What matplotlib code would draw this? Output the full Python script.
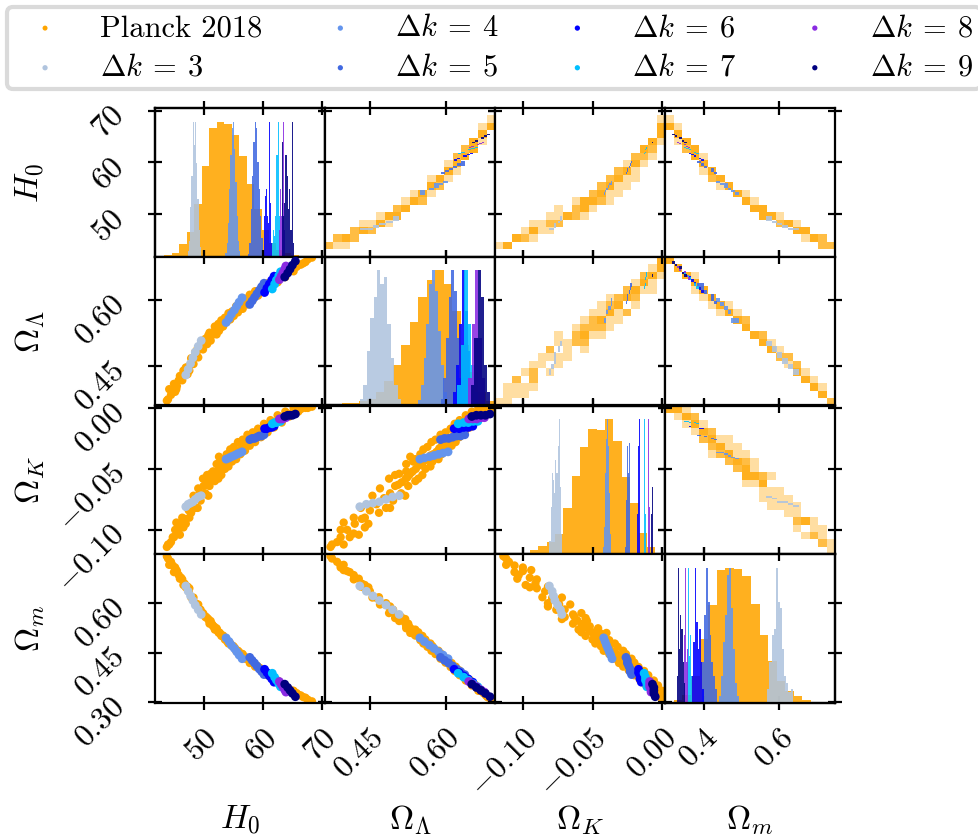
import numpy as np
import matplotlib
matplotlib.use("Agg")
import matplotlib.pyplot as plt
from matplotlib.colors import LinearSegmentedColormap, to_rgb

plt.rcParams['font.family'] = ['cmr10', 'DejaVu Serif']
plt.rcParams['mathtext.fontset'] = 'cm'
plt.rcParams['axes.unicode_minus'] = False
plt.rcParams['axes.linewidth'] = 1.6

labels = [r'$H_0$', r'$\Omega_\Lambda$', r'$\Omega_K$', r'$\Omega_m$']
names = ['Planck 2018', r'$\Delta k \:=\: 3$', r'$\Delta k \:=\: 4$', r'$\Delta k \:=\: 5$',
         r'$\Delta k \:=\: 6$', r'$\Delta k \:=\: 7$', r'$\Delta k \:=\: 8$', r'$\Delta k \:=\: 9$']
colors = ['orange', 'lightsteelblue', 'cornflowerblue', 'royalblue',
          'blue', 'deepskyblue', 'blueviolet', 'navy']

# ---- samples (H0, Omega_Lambda, Omega_K, Omega_m) ----
planck_H0 = [43.8, 44.5, 45.2, 45.8, 46.4, 47.0, 47.3, 47.9, 48.3, 48.6, 49.1, 49.5, 49.9,
             50.3, 50.6, 51.0, 51.2, 51.6, 51.9, 52.2, 52.5, 52.8, 53.0, 53.3, 53.6, 53.9,
             54.2, 54.5, 54.8, 55.1, 55.5, 55.8, 56.2, 56.6, 57.0, 57.4, 57.8, 58.3, 58.7,
             59.2, 59.7, 60.2, 60.8, 61.3, 61.9, 62.5, 63.2, 63.8, 64.5, 65.2, 66.0, 66.8,
             67.6, 68.3, 45.0, 46.0, 44.2, 50.0, 52.0, 53.5, 55.0, 56.5, 58.0, 54.0, 51.5,
             44.0, 44.8, 45.5, 46.2, 46.8, 47.5, 48.1, 48.8, 49.4, 50.4, 50.9, 51.4, 51.8,
             52.3, 52.7, 53.2, 53.7, 54.4, 54.9, 55.3, 55.9, 56.3, 56.9, 57.6, 58.5, 59.0,
             59.5, 60.0, 60.5, 61.1, 61.6, 62.2, 62.8, 63.5, 64.2, 65.0, 65.7, 66.4, 67.2,
             47.6, 46.6, 45.4, 49.0, 50.8, 52.6]
planck_OL = [0.372, 0.385, 0.392, 0.418, 0.418, 0.447, 0.432, 0.468, 0.455, 0.482, 0.470, 0.496, 0.488,
             0.512, 0.500, 0.526, 0.508, 0.522, 0.540, 0.522, 0.546, 0.536, 0.554, 0.540, 0.560, 0.550,
             0.570, 0.556, 0.574, 0.564, 0.586, 0.572, 0.592, 0.580, 0.603, 0.590, 0.612, 0.600, 0.620,
             0.610, 0.627, 0.618, 0.638, 0.628, 0.648, 0.640, 0.658, 0.652, 0.668, 0.665, 0.680, 0.683,
             0.692, 0.696, 0.410, 0.428, 0.398, 0.500, 0.532, 0.550, 0.570, 0.588, 0.606, 0.560, 0.524,
             0.375, 0.392, 0.405, 0.420, 0.434, 0.450, 0.463, 0.478, 0.490, 0.506, 0.513, 0.521, 0.528,
             0.535, 0.541, 0.548, 0.554, 0.563, 0.569, 0.575, 0.582, 0.587, 0.593, 0.600, 0.609, 0.613,
             0.618, 0.622, 0.627, 0.633, 0.637, 0.643, 0.648, 0.655, 0.662, 0.669, 0.675, 0.680, 0.686,
             0.440, 0.440, 0.398, 0.490, 0.520, 0.530]
planck_OK = [-0.114, -0.110, -0.100, -0.103, -0.090, -0.095, -0.082, -0.086, -0.072, -0.082, -0.066, -0.076, -0.058,
             -0.070, -0.055, -0.064, -0.054, -0.052, -0.060, -0.046, -0.058, -0.044, -0.055, -0.042, -0.050, -0.038,
             -0.048, -0.034, -0.044, -0.032, -0.042, -0.028, -0.038, -0.026, -0.035, -0.022, -0.031, -0.020, -0.028,
             -0.017, -0.024, -0.013, -0.020, -0.010, -0.016, -0.006, -0.012, -0.003, -0.007, 0.000, -0.003, 0.001,
             0.000, 0.001, -0.106, -0.104, -0.112, -0.064, -0.053, -0.046, -0.039, -0.033, -0.027, -0.043, -0.057,
             -0.112, -0.106, -0.100, -0.095, -0.091, -0.084, -0.079, -0.074, -0.070, -0.063, -0.061, -0.058, -0.055,
             -0.052, -0.050, -0.047, -0.045, -0.042, -0.040, -0.038, -0.036, -0.034, -0.031, -0.029, -0.026, -0.024,
             -0.022, -0.020, -0.018, -0.016, -0.014, -0.012, -0.010, -0.008, -0.006, -0.004, -0.002, -0.001, 0.000,
             -0.090, -0.098, -0.094, -0.082, -0.072, -0.040]
planck_Om = [0.742, 0.725, 0.708, 0.685, 0.672, 0.648, 0.650, 0.618, 0.617, 0.600, 0.596, 0.580, 0.570,
             0.558, 0.555, 0.538, 0.546, 0.530, 0.520, 0.524, 0.512, 0.508, 0.501, 0.502, 0.490, 0.488,
             0.478, 0.478, 0.470, 0.468, 0.456, 0.456, 0.446, 0.446, 0.432, 0.432, 0.419, 0.420, 0.408,
             0.407, 0.397, 0.395, 0.382, 0.382, 0.368, 0.366, 0.354, 0.351, 0.339, 0.335, 0.323, 0.316,
             0.308, 0.303, 0.694, 0.674, 0.716, 0.566, 0.522, 0.496, 0.470, 0.446, 0.422, 0.484, 0.534,
             0.735, 0.714, 0.697, 0.677, 0.659, 0.636, 0.616, 0.597, 0.581, 0.559, 0.548, 0.537, 0.529,
             0.519, 0.511, 0.501, 0.492, 0.480, 0.471, 0.464, 0.454, 0.448, 0.439, 0.430, 0.417, 0.411,
             0.404, 0.398, 0.391, 0.383, 0.377, 0.369, 0.362, 0.353, 0.344, 0.335, 0.328, 0.321, 0.314,
             0.645, 0.655, 0.700, 0.590, 0.552, 0.510]

dk3_H0 = [47.0, 47.4, 47.8, 48.2, 48.6, 49.1, 49.6]
dk3_OL = [0.430, 0.443, 0.456, 0.469, 0.482, 0.495, 0.508]
dk3_OK = [-0.081, -0.079, -0.078, -0.077, -0.075, -0.073, -0.072]
dk3_Om = [0.652, 0.636, 0.622, 0.608, 0.594, 0.580, 0.566]

dk4_H0 = [53.8, 54.3, 54.7, 55.2, 55.6, 56.0, 56.5]
dk4_OL = [0.549, 0.558, 0.568, 0.577, 0.586, 0.595, 0.605]
dk4_OK = [-0.042, -0.041, -0.040, -0.039, -0.038, -0.037, -0.036]
dk4_Om = [0.495, 0.484, 0.473, 0.463, 0.453, 0.443, 0.432]

dk5_H0 = [57.8, 58.2, 58.6, 59.0, 59.4, 59.8, 60.2]
dk5_OL = [0.590, 0.598, 0.606, 0.614, 0.622, 0.630, 0.638]
dk5_OK = [-0.026, -0.025, -0.025, -0.024, -0.023, -0.023, -0.022]
dk5_Om = [0.436, 0.427, 0.419, 0.410, 0.401, 0.393, 0.384]

dk6_H0 = [60.3, 60.7, 61.1, 61.5, 61.9]
dk6_OL = [0.617, 0.627, 0.636, 0.645, 0.654]
dk6_OK = [-0.017, -0.017, -0.016, -0.016, -0.015]
dk6_Om = [0.400, 0.390, 0.380, 0.371, 0.361]

dk7_H0 = [61.6, 62.0, 62.3, 62.7, 63.0]
dk7_OL = [0.625, 0.636, 0.645, 0.655, 0.664]
dk7_OK = [-0.013, -0.012, -0.012, -0.011, -0.011]
dk7_Om = [0.388, 0.376, 0.367, 0.356, 0.347]

dk8_H0 = [62.8, 63.1, 63.4, 63.7, 63.9]
dk8_OL = [0.646, 0.654, 0.662, 0.670, 0.677]
dk8_OK = [-0.009, -0.009, -0.009, -0.008, -0.008]
dk8_Om = [0.363, 0.355, 0.347, 0.338, 0.331]

dk9_H0 = [63.7, 64.2, 64.6, 65.0, 65.5]
dk9_OL = [0.652, 0.661, 0.670, 0.679, 0.688]
dk9_OK = [-0.007, -0.006, -0.006, -0.006, -0.005]
dk9_Om = [0.355, 0.345, 0.336, 0.327, 0.317]

# ---- 1D histograms on the diagonal (peak-normalised bin heights) ----
h0_lo = [43.4, 47.3, 53.7, 57.5, 60.0, 61.5, 62.7, 63.2]
h0_hi = [68.6, 49.6, 56.2, 60.2, 61.6, 62.9, 63.7, 65.3]
h0_heights = [
    [0.012, 0.025, 0.095, 0.18, 0.39, 0.67, 0.95, 1.0, 0.98, 0.9, 0.745, 0.54, 0.35, 0.2, 0.1, 0.05, 0.03, 0.012, 0.005, 0.003],
    [0.04, 0.12, 0.37, 0.6, 1.0, 0.83, 1.0, 0.69, 0.43, 0.2, 0.07],
    [0.03, 0.1, 0.25, 0.5, 0.75, 0.95, 1.0, 0.8, 0.55, 0.3, 0.12, 0.04],
    [0.02, 0.1, 0.35, 0.6, 0.85, 1.0, 0.95, 0.7, 0.5, 0.3, 0.14, 0.04],
    [0.05, 0.3, 0.45, 0.5, 0.3, 0.25, 1.0, 0.4, 0.1],
    [0.1, 0.2, 0.15, 0.3, 0.75, 1.0, 0.3],
    [0.2, 0.5, 0.3, 0.4, 1.0, 0.2],
    [0.85, 0.3, 0.4, 0.75, 0.6, 0.35, 0.5, 0.2, 1.0, 0.1],
]
ol_lo = [0.361, 0.430, 0.545, 0.590, 0.615, 0.623, 0.645, 0.651]
ol_hi = [0.697, 0.512, 0.602, 0.638, 0.655, 0.665, 0.678, 0.688]
ol_heights = [
    [0.005, 0.01, 0.015, 0.02, 0.03, 0.05, 0.10, 0.18, 0.30, 0.45, 0.62, 0.80, 0.93, 1.0, 0.90, 0.70, 0.45, 0.25, 0.10, 0.03],
    [0.05, 0.15, 0.4, 0.65, 0.8, 1.0, 0.9, 0.95, 0.6, 0.35, 0.15, 0.05],
    [0.04, 0.15, 0.35, 0.6, 0.9, 1.0, 0.85, 0.55, 0.3, 0.1],
    [0.05, 0.2, 0.5, 0.8, 1.0, 0.85, 0.5, 0.2, 0.05],
    [0.1, 0.3, 0.6, 1.0, 0.7, 0.4, 0.15],
    [0.15, 0.45, 1.0, 0.6, 0.3, 0.1],
    [0.2, 0.6, 1.0, 0.5, 0.2],
    [0.15, 0.5, 1.0, 0.8, 0.3, 0.1],
]
ok_lo = [-0.119, -0.081, -0.0424, -0.0264, -0.0180, -0.0133, -0.0103, -0.0080]
ok_hi = [0.001, -0.0716, -0.0367, -0.0229, -0.0157, -0.0117, -0.0090, -0.0068]
ok_heights = [
    [0.002, 0.003, 0.005, 0.012, 0.03, 0.06, 0.09, 0.15, 0.34, 0.58, 0.79, 0.925, 0.92, 1.0, 0.84, 0.57, 0.38, 0.16, 0.05, 0.01],
    [0.1, 0.35, 0.6, 0.55, 0.45, 0.7, 0.6, 0.8, 1.0, 0.5, 0.15],
    [0.05, 0.2, 0.6, 0.85, 1.0, 0.8, 0.45, 0.15],
    [0.05, 0.4, 0.8, 1.0, 0.6, 0.82, 0.3],
    [0.3, 0.55, 0.8, 1.0, 0.1],
    [0.15, 1.0, 0.3],
    [0.4, 1.0, 0.35],
    [0.3, 1.0, 0.5],
]
om_lo = [0.299, 0.569, 0.440, 0.396, 0.369, 0.356, 0.347, 0.329]
om_hi = [0.752, 0.636, 0.493, 0.436, 0.400, 0.369, 0.360, 0.351]
om_heights = [
    [0.005, 0.025, 0.06, 0.2, 0.47, 0.725, 0.98, 1.0, 0.99, 0.94, 0.73, 0.505, 0.31, 0.16, 0.09, 0.05, 0.02, 0.008, 0.003, 0.001],
    [0.1, 0.3, 0.5, 0.55, 1.0, 0.75, 0.7, 0.4, 0.2, 0.15, 0.08, 0.1],
    [0.05, 0.2, 0.45, 0.65, 0.95, 1.0, 0.7, 0.4, 0.15, 0.05],
    [0.3, 0.65, 1.0, 0.75, 0.5, 0.3, 0.2, 0.1],
    [0.2, 0.45, 1.0, 0.6, 0.4, 0.55, 0.3, 0.1],
    [0.3, 1.0, 0.35, 0.5, 0.2],
    [0.25, 0.5, 1.0, 0.3, 0.4],
    [0.2, 1.0, 0.4, 0.65, 0.55, 0.3, 0.15],
]

# axis ranges and ticks per parameter
lims = [(41.8, 70.5), (0.361, 0.698), (-0.120, 0.002), (0.298, 0.748)]
xticks = [[50, 60, 70], [0.45, 0.60], [-0.10, -0.05, 0.00], [0.4, 0.6]]
xticklabels = [['50', '60', '70'], ['0.45', '0.60'], ['-0.10', '-0.05', '0.00'], ['0.4', '0.6']]
yticks = [[50, 60, 70], [0.45, 0.60], [-0.10, -0.05, 0.00], [0.30, 0.45, 0.60]]
yticklabels = [['50', '60', '70'], ['0.45', '0.60'], ['-0.10', '-0.05', '0.00'], ['0.30', '0.45', '0.60']]

samples = [
    np.array([planck_H0, planck_OL, planck_OK, planck_Om]),
    np.array([dk3_H0, dk3_OL, dk3_OK, dk3_Om]),
    np.array([dk4_H0, dk4_OL, dk4_OK, dk4_Om]),
    np.array([dk5_H0, dk5_OL, dk5_OK, dk5_Om]),
    np.array([dk6_H0, dk6_OL, dk6_OK, dk6_Om]),
    np.array([dk7_H0, dk7_OL, dk7_OK, dk7_Om]),
    np.array([dk8_H0, dk8_OL, dk8_OK, dk8_Om]),
    np.array([dk9_H0, dk9_OL, dk9_OK, dk9_Om]),
]
hist_lo = [h0_lo, ol_lo, ok_lo, om_lo]
hist_hi = [h0_hi, ol_hi, ok_hi, om_hi]
hist_h = [h0_heights, ol_heights, ok_heights, om_heights]


def alpha_cmap(c, a0, a1):
    r, g, b = to_rgb(c)
    return LinearSegmentedColormap.from_list('a', [(r, g, b, a0), (r, g, b, a1)])


fig = plt.figure(figsize=(9.79, 8.38), dpi=100)
L, R, T, B = 155 / 979, 835 / 979, 1 - 108 / 838, 1 - 703 / 838
w, h = (R - L) / 4, (T - B) / 4

handles = []
for i in range(4):
    for j in range(4):
        ax = fig.add_axes([L + j * w, T - (i + 1) * h, w, h])
        if i == j:
            axh = ax.twinx()
            for k in range(8):
                hh = hist_h[i][k]
                edges = np.linspace(hist_lo[i][k], hist_hi[i][k], len(hh) + 1)
                axh.stairs(hh, edges, fill=True, color=colors[k], alpha=0.88, lw=0)
            axh.set_ylim(0, 1.1)
            axh.set_yticks([])
            axh.tick_params(right=False)
        elif i > j:
            for k in range(8):
                sc = ax.scatter(samples[k][j], samples[k][i], s=36 if k == 0 else 40,
                                color=colors[k], edgecolors='none', zorder=2 + k)
                if i == 1 and j == 0:
                    handles.append(sc)
        else:
            ax.hist2d(samples[0][j], samples[0][i], bins=20, range=[lims[j], lims[i]],
                      cmap=alpha_cmap('orange', 0.0, 0.88), cmin=1, vmin=0, vmax=2.4)
            for k in range(1, 8):
                ax.hist2d(samples[k][j], samples[k][i], bins=6,
                          cmap=alpha_cmap(colors[k], 0.0, 0.9), cmin=1, vmin=0, vmax=1)
        ax.set_xlim(lims[j])
        ax.set_ylim(lims[i])
        ax.set_xticks(xticks[j])
        ax.set_yticks(yticks[i])
        ax.tick_params(direction='inout', length=10, width=1.6, top=True, right=True,
                       labelleft=(j == 0), labelbottom=(i == 3), labelsize=23)
        if i == 3:
            ax.set_xticklabels(['$%s$' % t for t in xticklabels[j]], rotation=45,
                               ha='right', va='top', rotation_mode='anchor')
            ax.tick_params(axis='x', pad=10)
        if j == 0:
            ax.set_yticklabels(['$%s$' % t for t in yticklabels[i]], rotation=45,
                               ha='right', va='center', rotation_mode='anchor')
            ax.tick_params(axis='y', pad=20)

for n in range(4):
    fig.text(L + (n + 0.5) * w, 1 - 820 / 838, labels[n], ha='center', va='center', fontsize=24)
    fig.text(30 / 979, T - (n + 0.5) * h, labels[n], ha='center', va='center',
             rotation=90, fontsize=24)

leg = fig.legend(handles, names, loc='upper left', bbox_to_anchor=(0.007, 0.9916),
                 ncol=4, fontsize=22, markerscale=0.6, borderaxespad=0, fancybox=True,
                 handlelength=2.0, handletextpad=0.8, columnspacing=1.55,
                 borderpad=0.25, labelspacing=0.4)
leg.get_frame().set_linewidth(3)
leg.get_frame().set_edgecolor('0.82')

fig.savefig('out.png', dpi=100)
